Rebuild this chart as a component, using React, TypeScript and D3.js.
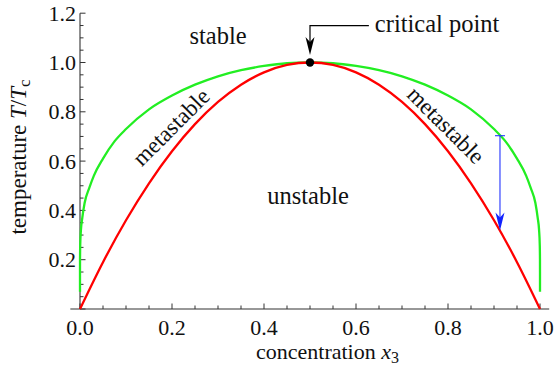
import React from 'react';
import * as d3 from 'd3';

// spinodal (red)
const spinodalX = [0, 0.05, 0.1, 0.15, 0.2, 0.25, 0.3, 0.35, 0.4, 0.45, 0.5, 0.55, 0.6, 0.65, 0.7, 0.75, 0.8, 0.85, 0.9, 0.95, 1.0];
const spinodalT = [0, 0.19, 0.36, 0.51, 0.64, 0.75, 0.84, 0.91, 0.96, 0.99, 1.0, 0.99, 0.96, 0.91, 0.84, 0.75, 0.64, 0.51, 0.36, 0.19, 0];

// binodal (green)
const binodalX = [0, 0.000001, 0.00005, 0.0005, 0.002, 0.005, 0.01, 0.02, 0.03, 0.05, 0.075, 0.1, 0.15, 0.2, 0.25, 0.3, 0.35, 0.4, 0.45, 0.5,
  0.55, 0.6, 0.65, 0.7, 0.75, 0.8, 0.85, 0.9, 0.925, 0.95, 0.97, 0.98, 0.99, 0.995, 0.998, 0.9995, 0.99995, 0.999999, 1];
const binodalT = [0.07, 0.15, 0.2, 0.26, 0.32, 0.37, 0.43, 0.49, 0.54, 0.61, 0.68, 0.73, 0.81, 0.866, 0.91, 0.944, 0.969, 0.986, 0.997, 1.0,
  0.997, 0.986, 0.969, 0.944, 0.91, 0.866, 0.81, 0.73, 0.68, 0.61, 0.54, 0.49, 0.43, 0.37, 0.32, 0.26, 0.2, 0.15, 0.07];

const xTicks = [0, 0.2, 0.4, 0.6, 0.8, 1.0];
const yTicks = [0.2, 0.4, 0.6, 0.8, 1.0, 1.2];
const xMinor = d3.range(0, 1.0001, 0.05);
const yMinor = d3.range(0, 1.2001, 0.05);

// annotations
const critical = { x: 0.5, t: 1.0 };
const criticalLabel = { x: 0.641, t: 1.15, lineEndX: 0.628, tipT: 1.03 };
const quench = { x: 0.913, from: 0.703, to: 0.318 };

const W = 557;
const H = 370;
const FONT = "'Liberation Serif', 'DejaVu Serif', serif";
const AXIS = '#333';
const INK = '#111';

export default function App() {
  const x = d3.scaleLinear().domain([0, 1]).range([80, 540]);
  const y = d3.scaleLinear().domain([0, 1.2]).range([309, 13.2]);

  const line = d3.line<[number, number]>()
    .x(d => x(d[0]))
    .y(d => y(d[1]))
    .curve(d3.curveMonotoneX);

  const spinodal = line(spinodalX.map((v, i) => [v, spinodalT[i]]) as [number, number][]) || '';
  const binodal = line(binodalX.map((v, i) => [v, binodalT[i]]) as [number, number][]) || '';

  const isMajor = (v: number, step: number) => Math.abs(v / step - Math.round(v / step)) < 1e-6;

  const head = (px: number, py: number, color: string) => (
    <path d={`M${px},${py} L${px - 4.5},${py - 18} L${px},${py - 13} L${px + 4.5},${py - 18} Z`} fill={color} />
  );

  const cx = x(critical.x);
  const qx = x(quench.x);
  const txt = { fontFamily: FONT };

  return (
    <svg width={W} height={H} style={{ position: 'absolute', left: 0, top: 0, background: '#fff', fontFamily: FONT }}>
      {/* axes */}
      <line x1={x(-0.021)} x2={x(1.02)} y1={y(0)} y2={y(0)} stroke={AXIS} strokeWidth={1.1} />
      <line x1={x(0)} x2={x(0)} y1={y(0)} y2={y(1.2)} stroke={AXIS} strokeWidth={1.1} />
      {xMinor.map(v => (
        <line key={'xm' + v} x1={x(v)} x2={x(v)} y1={y(0)} y2={y(0) - (isMajor(v, 0.2) ? 5.5 : 3.5)} stroke={AXIS} strokeWidth={1} />
      ))}
      {yMinor.map(v => (
        <line key={'ym' + v} x1={x(0)} x2={x(0) + (isMajor(v, 0.2) ? 5.5 : 3.5)} y1={y(v)} y2={y(v)} stroke={AXIS} strokeWidth={1} />
      ))}
      {xTicks.map(v => (
        <text key={'xt' + v} style={txt} x={x(v)} y={335} textAnchor="middle" fontSize={22} fill={INK}>{v.toFixed(1)}</text>
      ))}
      {yTicks.map(v => (
        <text key={'yt' + v} style={txt} x={76} y={y(v) + 7.5} textAnchor="end" fontSize={22} fill={INK}>{v.toFixed(1)}</text>
      ))}

      {/* axis labels */}
      <text style={txt} x={256} y={359} fontSize={22} fill={INK}>
        concentration <tspan fontStyle="italic">x</tspan><tspan fontSize={16} dy={4}>3</tspan>
      </text>
      <text style={txt} transform={`translate(26,157) rotate(-90)`} textAnchor="middle" fontSize={23} fill={INK}>
        temperature <tspan fontStyle="italic">T</tspan>/<tspan fontStyle="italic">T</tspan><tspan fontSize={17} dy={4}>c</tspan>
      </text>

      {/* curves */}
      <path d={binodal} fill="none" stroke="#22ee22" strokeWidth={2.3} />
      <path d={spinodal} fill="none" stroke="#f00" strokeWidth={2.3} />

      {/* quench arrow */}
      <line x1={qx} x2={qx} y1={y(quench.from)} y2={y(quench.to) - 12} stroke="#2233ff" strokeWidth={1.1} />
      <line x1={qx - 5} x2={qx + 5} y1={y(quench.from)} y2={y(quench.from)} stroke="#2233ff" strokeWidth={1.1} />
      {head(qx, y(quench.to), '#1122ff')}

      {/* critical point */}
      <circle cx={cx} cy={y(critical.t)} r={4.2} fill="#000" />
      <path d={`M${x(criticalLabel.lineEndX)},${y(criticalLabel.t)} H${cx} V${y(criticalLabel.tipT) - 12}`}
        fill="none" stroke="#000" strokeWidth={1.2} />
      {head(cx, y(criticalLabel.tipT), '#000')}
      <text style={txt} x={x(criticalLabel.x)} y={y(criticalLabel.t) + 6} fontSize={24.5} fill={INK}>critical point</text>

      {/* region labels */}
      <text style={txt} x={218} y={44} textAnchor="middle" fontSize={24.5} fill={INK}>stable</text>
      <text style={txt} x={308} y={203.5} textAnchor="middle" fontSize={24.5} fill={INK}>unstable</text>
      <text style={txt} transform="translate(171,127) rotate(-45)" textAnchor="middle" dy="0.34em" fontSize={23} fill={INK}>metastable</text>
      <text style={txt} transform="translate(446,125) rotate(45)" textAnchor="middle" dy="0.34em" fontSize={23} fill={INK}>metastable</text>
    </svg>
  );
}
